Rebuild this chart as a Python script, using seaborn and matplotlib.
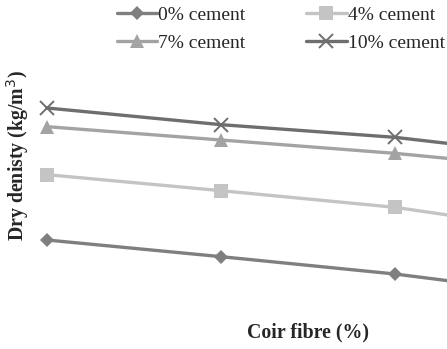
import matplotlib
matplotlib.use("Agg")
import matplotlib.pyplot as plt
import seaborn as sns
import pandas as pd
from matplotlib.lines import Line2D

# Coir fibre content (%) and dry density (kg/m³) for each cement content
coir_fibre = [0.0, 0.5, 1.0, 1.5]
cement_labels = ["0% cement", "4% cement", "7% cement", "10% cement"]
density_0 = [1760, 1735, 1709, 1676]
density_4 = [1858, 1834, 1809, 1771]
density_7 = [1930, 1910, 1890, 1865]
density_10 = [1958, 1933, 1914, 1884]

series = [density_0, density_4, density_7, density_10]
rows = []
for label, values in zip(cement_labels, series):
    for x, y in zip(coir_fibre, values):
        rows.append({"Coir fibre": x, "Dry density": y, "Cement": label})
df = pd.DataFrame(rows)

colors = {"0% cement": "#7f7f7f", "4% cement": "#c4c4c4",
          "7% cement": "#a3a3a3", "10% cement": "#6e6e6e"}
markers = {"0% cement": "D", "4% cement": "s",
           "7% cement": "^", "10% cement": "x"}
msizes = {"0% cement": 7.2, "4% cement": 10, "7% cement": 10.5, "10% cement": 10}

sns.set_theme(style="white")
plt.rcParams["font.family"] = ["Liberation Serif", "DejaVu Serif"]

fig = plt.figure(figsize=(4.47, 3.49), dpi=100)
ax = fig.add_axes([0, 0, 1, 1])

sns.lineplot(data=df, x="Coir fibre", y="Dry density", hue="Cement",
             hue_order=cement_labels, palette=colors, linewidth=2.4,
             ax=ax, legend=False)

for line, label in zip(ax.get_lines(), cement_labels):
    line.set_marker(markers[label])
    line.set_markersize(msizes[label])
    line.set_markerfacecolor(colors[label])
    line.set_markeredgecolor(colors[label])
    line.set_markeredgewidth(1.4 if label == "10% cement" else 0)
    line.set_solid_capstyle("round")

ax.set_xlim(-0.135, 1.1494)
ax.set_ylim(1596.5, 2120)
ax.axis("off")

fig.text(0.689, 0.046, "Coir fibre (%)", ha="center", va="center",
         fontsize=14.3, fontweight="bold")
fig.text(0.04, 0.555, "Dry denisty (kg/m$^3$)", ha="center", va="center",
         rotation=90, fontsize=14.3, fontweight="bold")

handles = [Line2D([], [], color=colors[l], lw=2.4, marker=markers[l],
                  markersize=msizes[l], markerfacecolor=colors[l],
                  markeredgecolor=colors[l],
                  markeredgewidth=1.4 if l == "10% cement" else 0)
           for l in cement_labels]
order = [0, 2, 1, 3]
fig.legend([handles[i] for i in order], [cement_labels[i] for i in order],
           ncol=2, loc="upper center", bbox_to_anchor=(0.628, 1.032),
           frameon=False, fontsize=14, handlelength=2.1, handletextpad=0.05,
           columnspacing=3.1, labelspacing=0.55)

fig.savefig("out.png", dpi=100)
